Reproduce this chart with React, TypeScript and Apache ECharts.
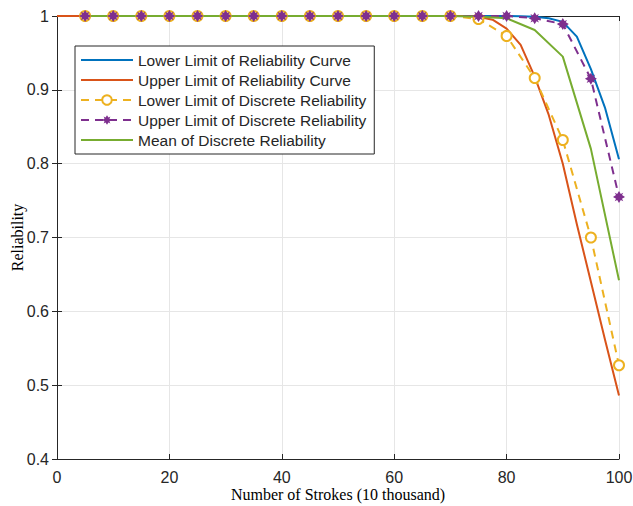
import React, { useEffect, useRef } from "react";
import * as echarts from "echarts";

// Continuous curves (x in 10 thousand strokes)
const lowerCurveX = [0, 70, 75, 80, 82.5, 85, 87.5, 90, 92.5, 95, 97.5, 100];
const lowerCurveY = [1, 1, 1, 1, 0.9995, 0.999, 0.997, 0.992, 0.972, 0.928, 0.876, 0.806];
const upperCurveX = [0, 70, 72.5, 75, 77.5, 80, 82.5, 85, 87.5, 90, 92.5, 95, 97.5, 100];
const upperCurveY = [1, 1, 1, 0.999, 0.995, 0.983, 0.961, 0.918, 0.866, 0.8, 0.718, 0.64, 0.562, 0.486];

// Discrete points
const discreteX = [5, 10, 15, 20, 25, 30, 35, 40, 45, 50, 55, 60, 65, 70, 75, 80, 85, 90, 95, 100];
const lowerDiscrete = [1, 1, 1, 1, 1, 1, 1, 1, 1, 1, 1, 1, 1, 1, 0.996, 0.973, 0.916, 0.832, 0.7, 0.527];
const upperDiscrete = [1, 1, 1, 1, 1, 1, 1, 1, 1, 1, 1, 1, 1, 1, 1, 1, 0.997, 0.989, 0.915, 0.755];
const meanDiscrete = [1, 1, 1, 1, 1, 1, 1, 1, 1, 1, 1, 1, 1, 1, 0.999, 0.997, 0.981, 0.945, 0.82, 0.642];

const seriesNames = [
  "Lower Limit of Reliability Curve",
  "Upper Limit of Reliability Curve",
  "Lower Limit of Discrete Reliability",
  "Upper Limit of Discrete Reliability",
  "Mean of Discrete Reliability",
];

const xTitle = "Number of Strokes (10 thousand)";
const yTitle = "Reliability";

const zip = (xs: number[], ys: number[]) => xs.map((x, i) => [x, ys[i]]);

const starPath =
  "path://M0,-10 L3,-5 L7.07,-7.07 L5,-3 L10,0 L5,3 L7.07,7.07 L3,5 L0,10 L-3,5 L-7.07,7.07 L-5,3 L-10,0 L-5,-3 L-7.07,-7.07 L-3,-5 Z";

export default function App() {
  const ref = useRef<HTMLDivElement>(null);
  useEffect(() => {
    if (!ref.current) return;
    const chart = echarts.init(ref.current, undefined, { renderer: "svg" });
    const sans = "Liberation Sans, Arial, Helvetica, sans-serif";
    const serif = "Liberation Serif, Times New Roman, serif";
    const axisColor = "#262626";
    const gridColor = "#e6e6e6";
    const plainLegend = (name: string) => ({ name, itemStyle: { opacity: 0 } });
    chart.setOption({
      animation: false,
      backgroundColor: "#ffffff",
      grid: {
        left: 57,
        right: 14,
        top: 16,
        bottom: 47,
        show: false,
        containLabel: false,
        outerBoundsMode: "none",
      },
      legend: {
        orient: "vertical",
        left: 75,
        top: 46,
        padding: [6, 8, 6, 5],
        itemWidth: 52,
        itemHeight: 12,
        itemGap: 4,
        backgroundColor: "#ffffff",
        borderColor: axisColor,
        borderWidth: 1,
        borderRadius: 0,
        textStyle: { fontFamily: sans, fontSize: 15.5, color: "#262626" },
        data: [
          plainLegend(seriesNames[0]),
          plainLegend(seriesNames[1]),
          { name: seriesNames[2] },
          { name: seriesNames[3] },
          plainLegend(seriesNames[4]),
        ],
      },
      xAxis: [
        {
          type: "value",
          min: 0,
          max: 100,
          interval: 20,
          position: "bottom",
          name: xTitle,
          nameLocation: "middle",
          nameGap: 27,
          nameMoveOverlap: false,
          nameTextStyle: { fontFamily: serif, fontSize: 16, color: "#000" },
          axisLine: { show: true, lineStyle: { color: axisColor, width: 1 } },
          axisTick: { show: true, inside: true, length: 5, lineStyle: { color: axisColor } },
          axisLabel: { fontFamily: sans, fontSize: 16, color: axisColor, margin: 10 },
          splitLine: { show: true, lineStyle: { color: gridColor, width: 1 } },
        },
        {
          type: "value",
          min: 0,
          max: 100,
          interval: 20,
          position: "top",
          axisLine: { show: true, lineStyle: { color: axisColor, width: 1 } },
          axisTick: { show: true, inside: true, length: 5, lineStyle: { color: axisColor } },
          axisLabel: { show: false },
          splitLine: { show: false },
        },
      ],
      yAxis: [
        {
          type: "value",
          min: 0.4,
          max: 1,
          interval: 0.1,
          position: "left",
          name: yTitle,
          nameLocation: "middle",
          nameGap: 32,
          nameMoveOverlap: false,
          nameTextStyle: { fontFamily: serif, fontSize: 16, color: "#000" },
          axisLine: { show: true, lineStyle: { color: axisColor, width: 1 } },
          axisTick: { show: true, inside: true, length: 5, lineStyle: { color: axisColor } },
          axisLabel: {
            fontFamily: sans,
            fontSize: 16,
            color: axisColor,
            margin: 8,
            formatter: (v: number) => String(Math.round(v * 10) / 10),
          },
          splitLine: { show: true, lineStyle: { color: gridColor, width: 1 } },
        },
        {
          type: "value",
          min: 0.4,
          max: 1,
          interval: 0.1,
          position: "right",
          axisLine: { show: true, lineStyle: { color: axisColor, width: 1 } },
          axisTick: { show: true, inside: true, length: 5, lineStyle: { color: axisColor } },
          axisLabel: { show: false },
          splitLine: { show: false },
        },
      ],
      series: [
        {
          name: seriesNames[0],
          type: "line",
          data: zip(lowerCurveX, lowerCurveY),
          showSymbol: false,
          symbol: "none",
          color: "#0072BD",
          lineStyle: { color: "#0072BD", width: 2 },
        },
        {
          name: seriesNames[1],
          type: "line",
          data: zip(upperCurveX, upperCurveY),
          showSymbol: false,
          symbol: "none",
          color: "#D95319",
          lineStyle: { color: "#D95319", width: 2 },
        },
        {
          name: seriesNames[2],
          type: "line",
          data: zip(discreteX, lowerDiscrete),
          symbol: "emptyCircle",
          symbolSize: 10,
          showAllSymbol: true,
          color: "#EDB120",
          itemStyle: { color: "#EDB120", borderColor: "#EDB120", borderWidth: 2 },
          lineStyle: { color: "#EDB120", width: 2, type: [8, 6] },
        },
        {
          name: seriesNames[3],
          type: "line",
          data: zip(discreteX, upperDiscrete),
          symbol: starPath,
          symbolSize: 12,
          showAllSymbol: true,
          color: "#7E2F8E",
          itemStyle: { color: "#7E2F8E" },
          lineStyle: { color: "#7E2F8E", width: 2, type: [8, 6] },
        },
        {
          name: seriesNames[4],
          type: "line",
          data: zip(discreteX, meanDiscrete),
          showSymbol: false,
          symbol: "none",
          color: "#77AC30",
          lineStyle: { color: "#77AC30", width: 2 },
        },
      ],
    });
    return () => chart.dispose();
  }, []);
  return (
    <div
      ref={ref}
      style={{ position: "fixed", left: 0, top: 0, width: 633, height: 506, background: "#fff" }}
    />
  );
}
